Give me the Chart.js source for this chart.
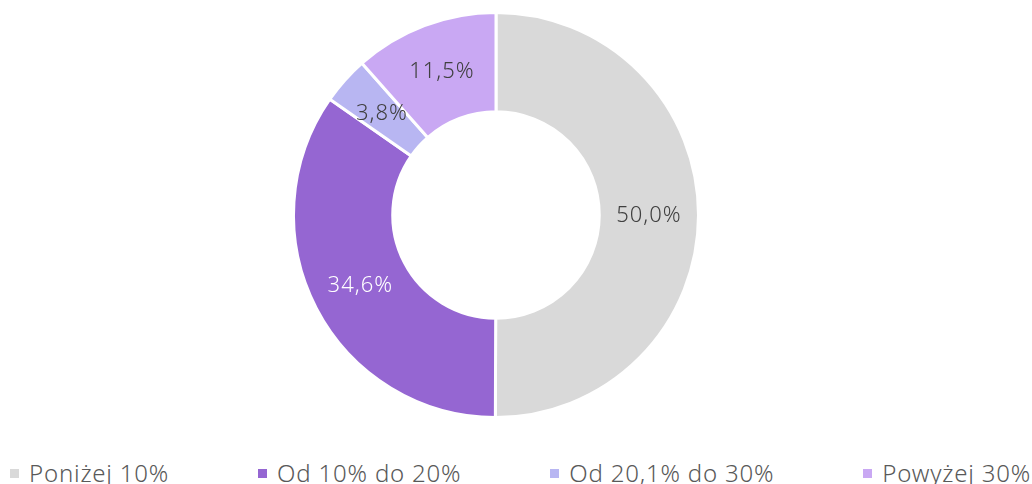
<!DOCTYPE html>
<html lang="pl">
<head>
  <meta charset="UTF-8">
  <title>Struktura udziałów</title>
  <script src="https://cdn.jsdelivr.net/npm/chart.js"></script>
  <style>
    html, body { margin: 0; padding: 0; background: #fff; overflow: hidden; }
    body { width: 1032px; height: 484px; position: relative; font-family: "Noto Sans", sans-serif; }
    .wykres { position: absolute; left: 0; top: 0; width: 1032px; height: 430px; }
    .legenda {
      position: absolute; left: 10px; right: 1px; top: 461px;
      display: flex; justify-content: space-between;
      font-size: 24px; line-height: 24px; letter-spacing: 0.8px;
      color: #595959; white-space: nowrap; font-weight: 300;
    }
    .legenda span.box { display: inline-block; width: 9px; height: 9px; margin-right: 10px; vertical-align: 4px; }
  </style>
</head>
<body>
  <div class="wykres"><canvas id="udzialy"></canvas></div>
  <div class="legenda" id="legenda"></div>

  <script>
    const kategorie = ['Poniżej 10%', 'Od 10% do 20%', 'Od 20,1% do 30%', 'Powyżej 30%'];
    const wartosci = [50.0, 34.6, 3.8, 11.5];
    const kolory = ['#d9d9d9', '#9566d2', '#b8b6f2', '#c9a8f3'];
    const koloryEtykiet = ['#404040', '#ffffff', '#404040', '#404040'];

    const formatuj = v => v.toFixed(1).replace('.', ',') + '%';

    // etykiety wartości w środku każdego wycinka
    const etykiety = {
      id: 'etykiety',
      afterDatasetsDraw(chart) {
        const ctx = chart.ctx;
        const meta = chart.getDatasetMeta(0);
        ctx.save();
        ctx.font = '300 22px "Noto Sans", sans-serif';
        ctx.letterSpacing = '1px';
        ctx.textAlign = 'center';
        ctx.textBaseline = 'middle';
        meta.data.forEach((luk, i) => {
          const p = luk.tooltipPosition();
          ctx.fillStyle = koloryEtykiet[i];
          ctx.fillText(formatuj(wartosci[i]), p.x, p.y);
        });
        ctx.restore();
      }
    };

    new Chart(document.getElementById('udzialy'), {
      type: 'doughnut',
      data: {
        labels: kategorie,
        datasets: [{
          data: wartosci,
          backgroundColor: kolory,
          borderColor: '#ffffff',
          borderWidth: 3
        }]
      },
      options: {
        responsive: true,
        maintainAspectRatio: false,
        animation: false,
        cutout: '51%',
        layout: { padding: { top: 11, bottom: 11, left: 0, right: 40 } },
        plugins: {
          legend: { display: false },
          tooltip: { enabled: false }
        }
      },
      plugins: [etykiety]
    });

    // legenda pod wykresem
    const legenda = document.getElementById('legenda');
    kategorie.forEach((k, i) => {
      const el = document.createElement('div');
      el.innerHTML = '<span class="box" style="background:' + kolory[i] + '"></span>' + k;
      legenda.appendChild(el);
    });
  </script>
</body>
</html>
